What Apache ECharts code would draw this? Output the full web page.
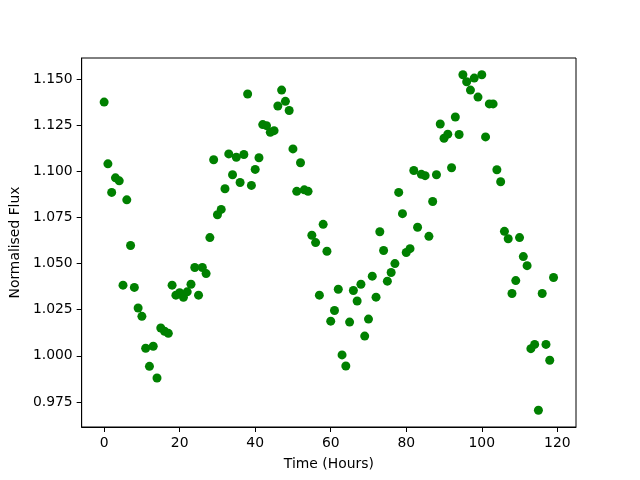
<!DOCTYPE html>
<html>
<head>
<meta charset="utf-8">
<script src="https://cdn.jsdelivr.net/npm/echarts@6/dist/echarts.min.js"></script>
<style>
  html, body { margin: 0; padding: 0; background: #fff; }
  #chart { width: 640px; height: 480px; }
</style>
</head>
<body>
<div id="chart"></div>
<script>
// hourly samples
var hours = [0,1,2,3,4,5,6,7,8,9,10,11,12,13,14,15,16,17,18,19,
  20,21,22,23,24,25,26,27,28,29,30,31,32,33,34,35,36,37,38,39,
  40,41,42,43,44,45,46,47,48,49,50,51,52,53,54,55,56,57,58,59,
  60,61,62,63,64,65,66,67,68,69,70,71,72,73,74,75,76,77,78,79,
  80,81,82,83,84,85,86,87,88,89,90,91,92,93,94,95,96,97,98,99,
  100,101,102,103,104,105,106,107,108,109,110,111,112,113,114,115,116,117,118,119];

var flux = [1.1376,1.1041,1.0886,1.0965,1.0949,1.0383,1.0846,1.0598,1.0371,1.0259,
  1.0214,1.0041,0.9943,1.0052,0.9880,1.0151,1.0133,1.0122,1.0383,1.0329,
  1.0342,1.0317,1.0347,1.0388,1.0479,1.0329,1.0479,1.0446,1.0641,1.1063,
  1.0765,1.0794,1.0906,1.1095,1.0982,1.1077,1.0940,1.1092,1.1420,1.0924,
  1.1011,1.1074,1.1254,1.1248,1.1212,1.1221,1.1355,1.1441,1.1380,1.1330,
  1.1122,1.0892,1.1047,1.0900,1.0892,1.0654,1.0614,1.0329,1.0713,1.0567,
  1.0188,1.0246,1.0361,1.0005,0.9945,1.0183,1.0354,1.0297,1.0388,1.0107,
  1.0199,1.0432,1.0318,1.0673,1.0571,1.0405,1.0452,1.0500,1.0886,1.0771,
  1.0560,1.0581,1.1005,1.0697,1.0984,1.0977,1.0648,1.0837,1.0982,1.1257,
  1.1180,1.1202,1.1020,1.1295,1.1200,1.1524,1.1486,1.1441,1.1506,1.1403,
  1.1524,1.1187,1.1366,1.1366,1.1009,1.0944,1.0675,1.0635,1.0338,1.0408,
  1.0641,1.0538,1.0489,1.0039,1.0062,0.9705,1.0338,1.0062,0.9976,1.0425];

var xTicks = [0, 20, 40, 60, 80, 100, 120];
var yTicks = [0.975, 1.000, 1.025, 1.050, 1.075, 1.100, 1.125, 1.150];

var points = hours.map(function (h, i) { return [h, flux[i]]; });

var font = 'DejaVu Sans';
var myChart = echarts.init(document.getElementById('chart'), null, { renderer: 'canvas' });
var option = {
  animation: false,
  backgroundColor: '#fff',
  grid: {
    left: 80, right: 64, top: 58, bottom: 53,
    show: true, borderColor: '#000', borderWidth: 1
  },
  xAxis: {
    type: 'value',
    min: -5.95, max: 124.95,
    name: 'Time (Hours)',
    nameLocation: 'middle',
    nameGap: 30,
    nameTextStyle: { fontFamily: font, fontSize: 13.9, color: '#000' },
    splitLine: { show: false },
    axisLine: { show: true, onZero: false, lineStyle: { color: '#000', width: 1 } },
    axisTick: { show: true, inside: false, length: 5, lineStyle: { color: '#000' }, customValues: xTicks },
    axisLabel: { fontFamily: font, fontSize: 13.9, color: '#000', margin: 9, customValues: xTicks }
  },
  yAxis: {
    type: 'value',
    min: 0.9614, max: 1.1615,
    name: 'Normalised Flux',
    nameLocation: 'middle',
    nameGap: 54,
    nameRotate: 90,
    nameTextStyle: { fontFamily: font, fontSize: 13.9, color: '#000' },
    splitLine: { show: false },
    axisLine: { show: true, onZero: false, lineStyle: { color: '#000', width: 1 } },
    axisTick: { show: true, inside: false, length: 5, lineStyle: { color: '#000' }, customValues: yTicks },
    axisLabel: {
      fontFamily: font, fontSize: 13.9, color: '#000', margin: 9, customValues: yTicks,
      formatter: function (v) { return v.toFixed(3); }
    }
  },
  series: [{
    type: 'scatter',
    data: points,
    symbol: 'circle',
    symbolSize: 9,
    itemStyle: { color: '#008000', opacity: 1 }
  }]
};
myChart.setOption(option);
</script>
</body>
</html>
